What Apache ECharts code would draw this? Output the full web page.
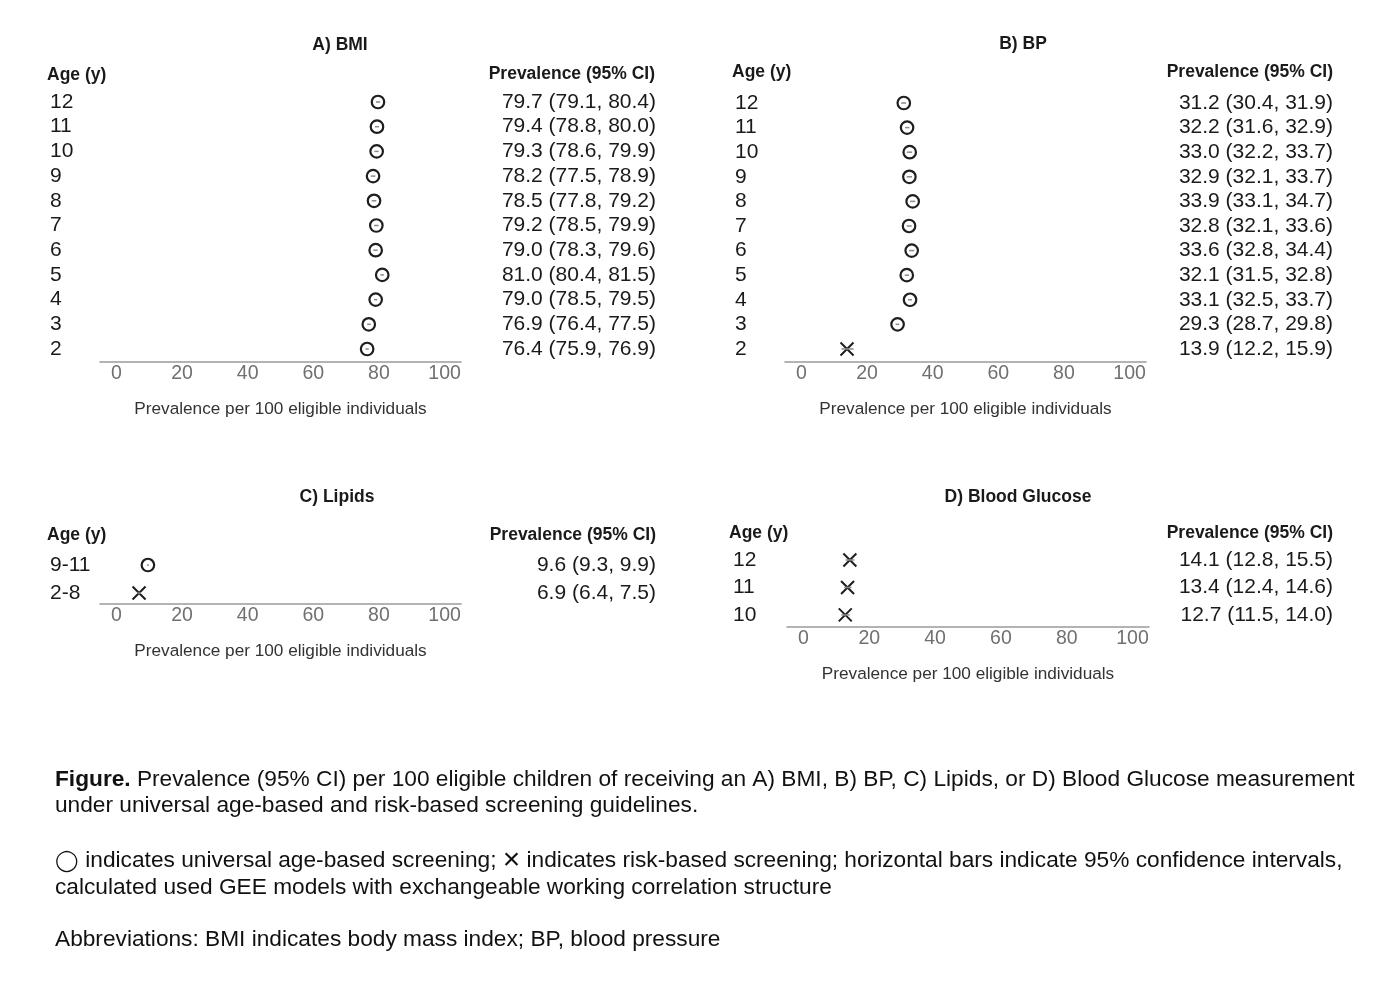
<!DOCTYPE html>
<html>
<head>
<meta charset="utf-8">
<script src="https://cdn.jsdelivr.net/npm/echarts@6/dist/echarts.min.js"></script>
<style>
html,body{margin:0;padding:0;background:#fff;}
#chart{width:1383px;height:991px;}
</style>
</head>
<body>
<div id="chart"></div>
<script>
// ---------- DATA (rows listed bottom to top) ----------
const bmiAges = ['2','3','4','5','6','7','8','9','10','11','12'];
const bmiPrev = [76.4, 76.9, 79.0, 81.0, 79.0, 79.2, 78.5, 78.2, 79.3, 79.4, 79.7];
const bmiLo   = [75.9, 76.4, 78.5, 80.4, 78.3, 78.5, 77.8, 77.5, 78.6, 78.8, 79.1];
const bmiHi   = [76.9, 77.5, 79.5, 81.5, 79.6, 79.9, 79.2, 78.9, 79.9, 80.0, 80.4];
const bmiType = ['U','U','U','U','U','U','U','U','U','U','U'];

const bpAges = ['2','3','4','5','6','7','8','9','10','11','12'];
const bpPrev = [13.9, 29.3, 33.1, 32.1, 33.6, 32.8, 33.9, 32.9, 33.0, 32.2, 31.2];
const bpLo   = [12.2, 28.7, 32.5, 31.5, 32.8, 32.1, 33.1, 32.1, 32.2, 31.6, 30.4];
const bpHi   = [15.9, 29.8, 33.7, 32.8, 34.4, 33.6, 34.7, 33.7, 33.7, 32.9, 31.9];
const bpType = ['R','U','U','U','U','U','U','U','U','U','U'];

const lipAges = ['2-8','9-11'];
const lipPrev = [6.9, 9.6];
const lipLo   = [6.4, 9.3];
const lipHi   = [7.5, 9.9];
const lipType = ['R','U'];

const gluAges = ['10','11','12'];
const gluPrev = [12.7, 13.4, 14.1];
const gluLo   = [11.5, 12.4, 12.8];
const gluHi   = [14.0, 14.6, 15.5];
const gluType = ['R','R','R'];

const xTicks = [0, 20, 40, 60, 80, 100];
const panelTitles = ['A) BMI', 'B) BP', 'C) Lipids', 'D) Blood Glucose'];
const xAxisTitle = 'Prevalence per 100 eligible individuals';
const ageHeader = 'Age (y)';
const ciHeader = 'Prevalence (95% CI)';

// ---------- LAYOUT ----------
const FONT = '"Liberation Sans", Arial, sans-serif';
const panels = [
  {ages: bmiAges, prev: bmiPrev, lo: bmiLo, hi: bmiHi, type: bmiType,
   grid: {left: 100, top: 89.65, width: 361, height: 271.7}, yMin: -0.5, yMax: 10.5, ageMargin: 50, ciMargin: 195},
  {ages: bpAges, prev: bpPrev, lo: bpLo, hi: bpHi, type: bpType,
   grid: {left: 785, top: 90.7, width: 361, height: 271.3}, yMin: -0.53, yMax: 10.5, ageMargin: 50, ciMargin: 187},
  {ages: lipAges, prev: lipPrev, lo: lipLo, hi: lipHi, type: lipType,
   grid: {left: 100, top: 551, width: 361, height: 53}, yMin: -0.39, yMax: 1.5, ageMargin: 50, ciMargin: 195},
  {ages: gluAges, prev: gluPrev, lo: gluLo, hi: gluHi, type: gluType,
   grid: {left: 787, top: 546.25, width: 362, height: 80.75}, yMin: -0.44, yMax: 2.5, ageMargin: 54, ciMargin: 184}
];

const crossPath = 'path://M0,0L10,10M10,0L0,10';

const grids = [], xAxes = [], yAxes = [], series = [];
panels.forEach((p, i) => {
  grids.push(p.grid);
  const idx = p.ages.map((_, k) => k);
  xAxes.push({
    type: 'value', gridIndex: i, min: -5, max: 105,
    axisLine: {show: true, onZero: false, lineStyle: {color: '#9a9a9a', width: 1.6}},
    axisTick: {show: false},
    splitLine: {show: false},
    axisLabel: {customValues: xTicks, margin: 2, color: '#707070', fontSize: 19.5, fontFamily: FONT},
    name: xAxisTitle, nameLocation: 'middle', nameGap: 39,
    nameTextStyle: {color: '#333', fontSize: 17.2, fontFamily: FONT}
  });
  yAxes.push({
    type: 'value', gridIndex: i, min: p.yMin, max: p.yMax, position: 'left',
    axisLine: {show: false}, axisTick: {show: false}, splitLine: {show: false},
    axisLabel: {customValues: idx, align: 'left', margin: p.ageMargin, color: '#1a1a1a', fontSize: 21, fontFamily: FONT,
      formatter: v => p.ages[Math.round(v)]}
  });
  yAxes.push({
    type: 'value', gridIndex: i, min: p.yMin, max: p.yMax, position: 'right',
    axisLine: {show: false}, axisTick: {show: false}, splitLine: {show: false},
    axisLabel: {customValues: idx, align: 'right', margin: p.ciMargin, color: '#1a1a1a', fontSize: 21, fontFamily: FONT,
      formatter: v => { const k = Math.round(v); return p.prev[k].toFixed(1) + ' (' + p.lo[k].toFixed(1) + ', ' + p.hi[k].toFixed(1) + ')'; }}
  });
  const yi = i * 2;
  series.push({
    type: 'scatter', xAxisIndex: i, yAxisIndex: yi, symbol: 'circle', symbolSize: 12.5,
    itemStyle: {color: '#fff', borderColor: '#1e1e1e', borderWidth: 2.2, opacity: 1},
    data: idx.filter(k => p.type[k] === 'U').map(k => [p.prev[k], k]), z: 2
  });
  series.push({
    type: 'scatter', xAxisIndex: i, yAxisIndex: yi, symbol: crossPath, symbolSize: 13,
    itemStyle: {color: 'transparent', borderColor: '#1e1e1e', borderWidth: 2, opacity: 1},
    data: idx.filter(k => p.type[k] === 'R').map(k => [p.prev[k], k]), z: 2
  });
  series.push({
    type: 'custom', xAxisIndex: i, yAxisIndex: yi, z: 3,
    data: idx.map(k => [p.lo[k], p.hi[k], k]),
    renderItem: (params, api) => {
      const a = api.coord([api.value(0), api.value(2)]);
      const b = api.coord([api.value(1), api.value(2)]);
      return {type: 'line', shape: {x1: a[0], y1: a[1], x2: b[0], y2: b[1]},
        style: {stroke: '#8a8a8a', lineWidth: 1.5}};
    }
  });
});

function txt(x, y, text, opts) {
  return Object.assign({type: 'text', x: x, y: y, silent: true,
    style: Object.assign({text: text, fill: '#1a1a1a', fontSize: 17.5, fontWeight: 'bold', fontFamily: FONT,
      align: 'left', verticalAlign: 'middle'}, opts || {})});
}

const capSize = 22.7;
const capStyle = {fontWeight: 'normal', fontSize: capSize, fill: '#111'};
const graphic = [
  txt(340, 45, panelTitles[0], {align: 'center'}),
  txt(1023, 44, panelTitles[1], {align: 'center'}),
  txt(337, 497, panelTitles[2], {align: 'center'}),
  txt(1018, 497, panelTitles[3], {align: 'center'}),
  txt(47, 75, ageHeader), txt(655, 74, ciHeader, {align: 'right'}),
  txt(732, 72, ageHeader), txt(1333, 72, ciHeader, {align: 'right'}),
  txt(47, 535, ageHeader), txt(656, 535, ciHeader, {align: 'right'}),
  txt(729, 533, ageHeader), txt(1333, 533, ciHeader, {align: 'right'}),
  txt(55, 780, '{b|Figure.} Prevalence (95% CI) per 100 eligible children of receiving an A) BMI, B) BP, C) Lipids, or D) Blood Glucose measurement',
    Object.assign({}, capStyle, {rich: {b: {fontWeight: 'bold', fontSize: capSize, fontFamily: FONT, fill: '#111'}}})),
  txt(55, 806, 'under universal age-based and risk-based screening guidelines.', capStyle),
  txt(55, 861, '{c|\u25EF} indicates universal age-based screening; {x|\u00D7} indicates risk-based screening; horizontal bars indicate 95% confidence intervals,',
    Object.assign({}, capStyle, {rich: {
      c: {fontSize: 21, fontFamily: FONT, fill: '#111'},
      x: {fontSize: 30, fontFamily: FONT, fill: '#111'}
    }})),
  txt(55, 888, 'calculated used GEE models with exchangeable working correlation structure', capStyle),
  txt(55, 940, 'Abbreviations: BMI indicates body mass index; BP, blood pressure', capStyle)
];

const chart = echarts.init(document.getElementById('chart'), null, {renderer: 'canvas'});
chart.setOption({
  backgroundColor: '#fff',
  animation: false,
  grid: grids, xAxis: xAxes, yAxis: yAxes, series: series, graphic: graphic
});
</script>
</body>
</html>
